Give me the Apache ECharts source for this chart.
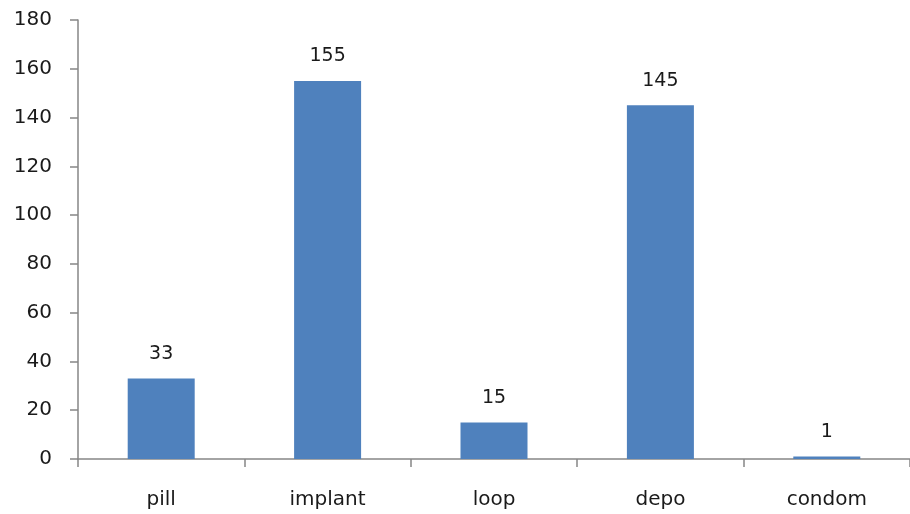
<!DOCTYPE html>
<html>
<head>
<meta charset="utf-8">
<script src="https://cdn.jsdelivr.net/npm/echarts@6/dist/echarts.min.js"></script>
<style>
  html, body { margin: 0; padding: 0; background: #fff; }
  #chart { width: 910px; height: 514px; }
</style>
</head>
<body>
<div id="chart"></div>
<script>
// Contraceptive method counts
const methods = ['pill', 'implant', 'loop', 'depo', 'condom'];
const counts = [33, 155, 15, 145, 1];
const yTicks = { min: 0, max: 180, interval: 20 };

const font = 'DejaVu Sans, Verdana, sans-serif';
const axisGray = '#868686';

const chart = echarts.init(document.getElementById('chart'), null, { renderer: 'canvas' });
chart.setOption({
  animation: false,
  backgroundColor: '#ffffff',
  grid: { left: 78, top: 20, width: 835, height: 439 },
  xAxis: {
    type: 'category',
    data: methods,
    axisLine: { lineStyle: { color: axisGray, width: 1.5 } },
    axisTick: { show: true, length: 8, inside: false, lineStyle: { color: axisGray, width: 1.5 } },
    axisLabel: { color: '#1a1a1a', fontFamily: font, fontSize: 20, margin: 31 },
    splitLine: { show: false }
  },
  yAxis: {
    type: 'value',
    min: yTicks.min,
    max: yTicks.max,
    interval: yTicks.interval,
    axisLine: { show: true, lineStyle: { color: axisGray, width: 1.5 } },
    axisTick: { show: true, length: 8, lineStyle: { color: axisGray, width: 1.5 } },
    axisLabel: { color: '#1a1a1a', fontFamily: font, fontSize: 20, margin: 26 },
    splitLine: { show: false }
  },
  series: [{
    type: 'bar',
    data: counts,
    barWidth: 67,
    itemStyle: { color: '#4F81BD' },
    label: {
      show: true,
      position: 'top',
      distance: 15,
      color: '#1a1a1a',
      fontFamily: font,
      fontSize: 19
    }
  }]
});
</script>
</body>
</html>
